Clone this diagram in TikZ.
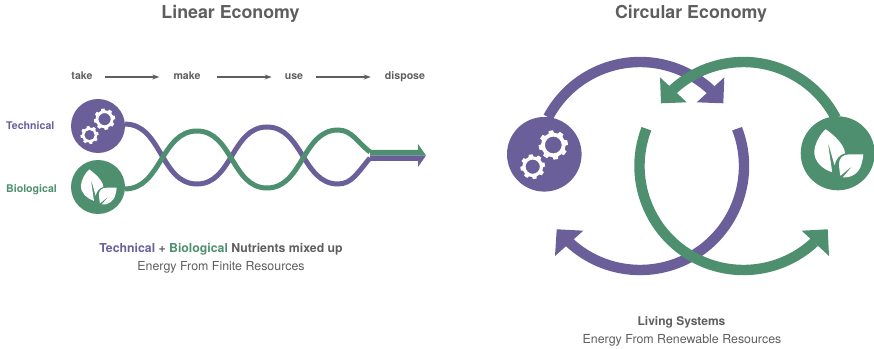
\documentclass[tikz,border=0pt]{standalone}
\usepackage{fontspec}
\setmainfont{TeX Gyre Heros}
\usetikzlibrary{arrows.meta}
\definecolor{techcol}{HTML}{6A5F99}
\definecolor{biocol}{HTML}{4D8F6E}
\definecolor{txtcol}{HTML}{5E5E5E}
\tikzset{
  lab/.style={inner sep=0pt, text=txtcol, font=\fontsize{#1}{14}\selectfont\bfseries},
  sub/.style={inner sep=0pt, text=txtcol, font=\fontsize{12.4}{14}\selectfont},
  stage/.style={lab=10.6, text height=8pt, text depth=2pt},
  flow/.style={draw=txtcol, line width=1.2pt, -{Stealth[length=7pt,width=5pt]}},
  strand/.style={line width=5pt},
  ring/.style={line width=10.4pt},
  badge/.style={circle, inner sep=0pt, minimum size=#1, fill},
  pics/gears/.style={code={
    \foreach \gx/\gy/\gr in {9/9.3/15, -11.6/-12.4/12.7}{
      \fill[white, even odd rule] (\gx,\gy) circle ({.82*\gr}) (\gx,\gy) circle ({.56*\gr});
      \foreach \a in {0,45,...,315}
        \fill[white, shift={(\gx,\gy)}, rotate=\a+10]
          ({.7*\gr},{-.2*\gr}) -- ({.97*\gr},{-.15*\gr}) -- ({.97*\gr},{.15*\gr}) -- ({.7*\gr},{.2*\gr}) -- cycle;
    }
  }},
  pics/leaves/.style={code={
    \fill[white] (-12,24) .. controls (-3,18) and (7,8) .. (7.3,0)
      .. controls (2,-1) and (-2,-6) .. (-3.2,-12) -- (-10,12) -- (-5.5,-19)
      .. controls (-15,-16) and (-24,-8) .. (-23.4,2)
      .. controls (-23,10) and (-17,20) .. (-12,24) -- cycle;
    \fill[white] (25.6,-1) -- (12,-1) .. controls (5,-1) and (1,-5) .. (1.3,-11)
      .. controls (1.5,-15) and (2,-19) .. (2.7,-22.5) -- (15.6,-11.7) -- (5,-24)
      .. controls (13,-25) and (22,-20) .. (24,-10)
      .. controls (25,-6) and (25.6,-3) .. (25.6,-1) -- cycle;
  }},
}
\begin{document}
\begin{tikzpicture}[x=1pt, y=1pt]
  \useasboundingbox (0,0) rectangle (874,348);

  % linear side
  \node[lab=17.8] (lintitle) at (230.5,334.5) {Linear Economy};
  \node[stage] (take) at (82,271) {take};
  \node[stage] (make) at (187,271) {make};
  \node[stage] (use) at (294,271) {use};
  \node[stage] (dispose) at (405,271) {dispose};
  \draw[flow, shorten <=12pt, shorten >=14pt] (take.east) -- (make.west);
  \draw[flow, shorten <=16pt, shorten >=13pt] (make.east) -- (use.west);
  \draw[flow, shorten <=13pt, shorten >=14pt] (use.east) -- (dispose.west);

  \node[lab=10.6, text=techcol, anchor=west] (techlab) at (6,222) {Technical};
  \node[lab=10.6, text=biocol, anchor=west] (biolab) at (6,158.5) {Biological};
  \node[badge=54pt, techcol] (techl) at (98,222) {};
  \node[badge=54pt, biocol] (biol) at (98,161) {};
  \path (techl) pic[scale=.73] {gears};
  \path (biol) pic[scale=.73] {leaves};

  \coordinate (tipt) at (370,190);
  \coordinate (tipb) at (370,196);
  \draw[strand, techcol] (techl.4) to[out=0, in=180] (197,164) to[out=0, in=180] (267,221)
    to[out=0, in=180] (338,164) .. controls (352,164) and (358,176) .. (tipt);
  \draw[strand, biocol] (biol.-4) to[out=0, in=180] (197,217) to[out=0, in=180] (267,160)
    to[out=0, in=180] (338,218) .. controls (352,218) and (358,205) .. (tipb);
  \fill[techcol] (370,192.5) -- (426,192.5) -- (418,181) -- (418,187) -- (370,187) -- cycle;
  \fill[biocol] (370,198) -- (418,198) -- (418,204) -- (426,192.5) -- (370,192.5) -- cycle;

  \node[sub, font=\fontsize{12.3}{14}\selectfont\bfseries] (mixlab) at (221,99)
    {\textcolor{techcol}{Technical} + \textcolor{biocol}{Biological} Nutrients mixed up};
  \node[sub] (finlab) at (221,80.5) {Energy From Finite Resources};

  % circular side
  \node[lab=17.8] (circtitle) at (691,334) {Circular Economy};
  \coordinate (pcen) at (640,182);
  \coordinate (gcen) at (743.5,182);

  \draw[ring, techcol] ([shift={(152:104)}]pcen) arc[start angle=152, end angle=47, radius=104];
  \fill[techcol] (723.3,244.7) -- (724.3,270.7) -- (696.7,245.7) -- cycle;
  \draw[ring, techcol] ([shift={(21:104)}]pcen) arc[start angle=21, end angle=-133, radius=104];
  \fill[techcol] (556.7,118.7) -- (583.3,117.3) -- (555,92) -- cycle;

  \draw[ring, biocol] ([shift={(27.5:104)}]gcen) arc[start angle=27.5, end angle=133, radius=104];
  \fill[biocol] (661,244.7) -- (660,270.7) -- (686.7,245.7) -- cycle;
  \draw[ring, biocol] ([shift={(159:104)}]gcen) arc[start angle=159, end angle=313, radius=104];
  \fill[biocol] (827.7,118.7) -- (801.7,117.3) -- (829,92) -- cycle;

  \node[badge=74.6pt, techcol] (techr) at (544.3,193.7) {};
  \node[badge=74pt, biocol] (bior) at (837.7,194.7) {};
  \path (techr) pic {gears};
  \path (bior) pic {leaves};

  \node[lab=12] (livlab) at (681.5,25.5) {Living Systems};
  \node[sub] (renlab) at (682,7.5) {Energy From Renewable Resources};
\end{tikzpicture}
\end{document}
